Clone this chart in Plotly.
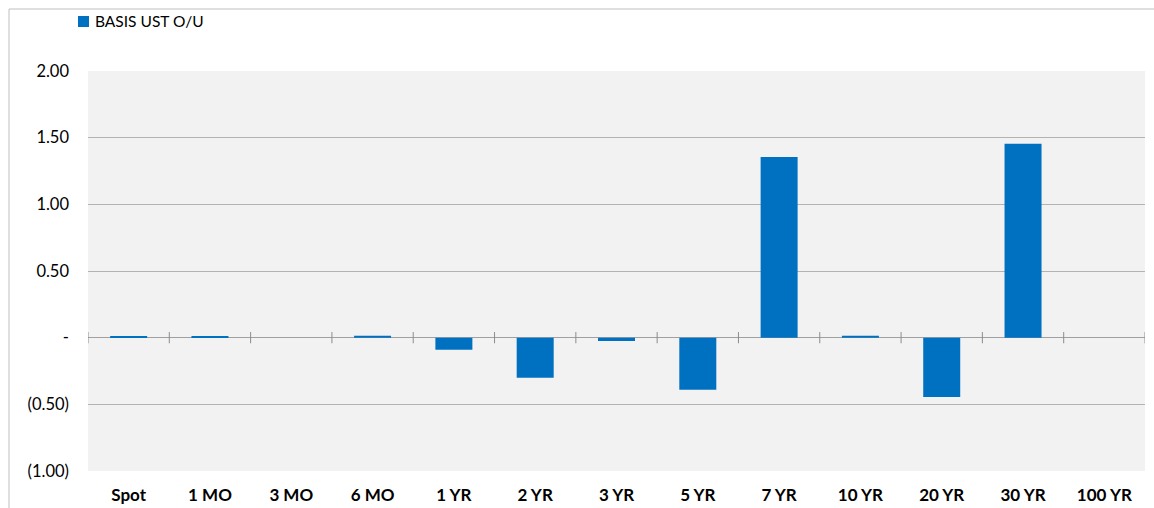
import plotly.graph_objects as go

categories = ["Spot", "1 MO", "3 MO", "6 MO", "1 YR", "2 YR", "3 YR", "5 YR", "7 YR", "10 YR", "20 YR", "30 YR", "100 YR"]
basis_ust_ou = [0.01, 0.01, 0.0, 0.015, -0.09, -0.30, -0.025, -0.39, 1.355, 0.015, -0.445, 1.455, 0.0]
y_tick_vals = [2.0, 1.5, 1.0, 0.5, 0.0, -0.5, -1.0]
y_tick_text = ["2.00", "1.50", "1.00", "0.50", "-", "(0.50)", "(1.00)"]
series_name = "BASIS UST O/U"
bar_color = "#0070c0"

W, H = 1154, 508
ml, mr, mt, mb = 88, 9, 71, 37
pw = W - ml - mr
ph = H - mt - mb

def px_x(p):
    return (p - ml) / pw

def px_y(p):
    return 1 - (p - mt) / ph

fig = go.Figure()
fig.add_trace(go.Bar(
    x=list(range(len(categories))),
    y=basis_ust_ou,
    name=series_name,
    marker=dict(color=bar_color, line=dict(width=0)),
    width=0.455,
    showlegend=False,
))

shapes = []
# tick marks crossing the zero line at category boundaries
for i in range(len(categories) + 1):
    shapes.append(dict(type="line", xref="x", yref="y", x0=i - 0.5, x1=i - 0.5,
                       y0=-0.042, y1=0.042, line=dict(color="#8c8c8c", width=1)))
# outer chart border
shapes.append(dict(type="rect", xref="paper", yref="paper",
                   x0=px_x(9), x1=px_x(W + 20), y0=px_y(H + 20), y1=px_y(9),
                   line=dict(color="#bfbfbf", width=1), fillcolor="rgba(0,0,0,0)", layer="below"))
# legend swatch
shapes.append(dict(type="rect", xref="paper", yref="paper",
                   x0=px_x(78), x1=px_x(89), y0=px_y(27), y1=px_y(16),
                   line=dict(width=0), fillcolor=bar_color))

fig.update_layout(
    width=W, height=H,
    margin=dict(l=ml, r=mr, t=mt, b=mb, autoexpand=False),
    paper_bgcolor="white",
    plot_bgcolor="#f2f2f2",
    font=dict(family="Lato, 'Liberation Sans', sans-serif", size=16, color="black"),
    showlegend=False,
    shapes=shapes,
    annotations=[dict(text=series_name, xref="paper", yref="paper",
                      x=px_x(93), y=px_y(21.5), xanchor="left", yanchor="middle",
                      showarrow=False, font=dict(size=15.5, color="black"))],
    bargap=0.545,
)
fig.update_xaxes(
    range=[-0.5, len(categories) - 0.5],
    tickvals=list(range(len(categories))),
    ticktext=["<b>%s</b>" % c for c in categories],
    showgrid=False, zeroline=False, showline=False, ticks="",
    tickfont=dict(size=17),
    ticklabelstandoff=12,
    automargin=False,
)
fig.update_yaxes(
    range=[-1.0, 2.0],
    tickvals=y_tick_vals, ticktext=y_tick_text,
    showgrid=True, gridcolor="#b3b3b3", gridwidth=1,
    zeroline=True, zerolinecolor="#a0a0a0", zerolinewidth=1,
    showline=False, ticks="",
    tickfont=dict(size=16.5),
    ticklabelstandoff=18,
    automargin=False,
)

fig.write_html("out.html")
